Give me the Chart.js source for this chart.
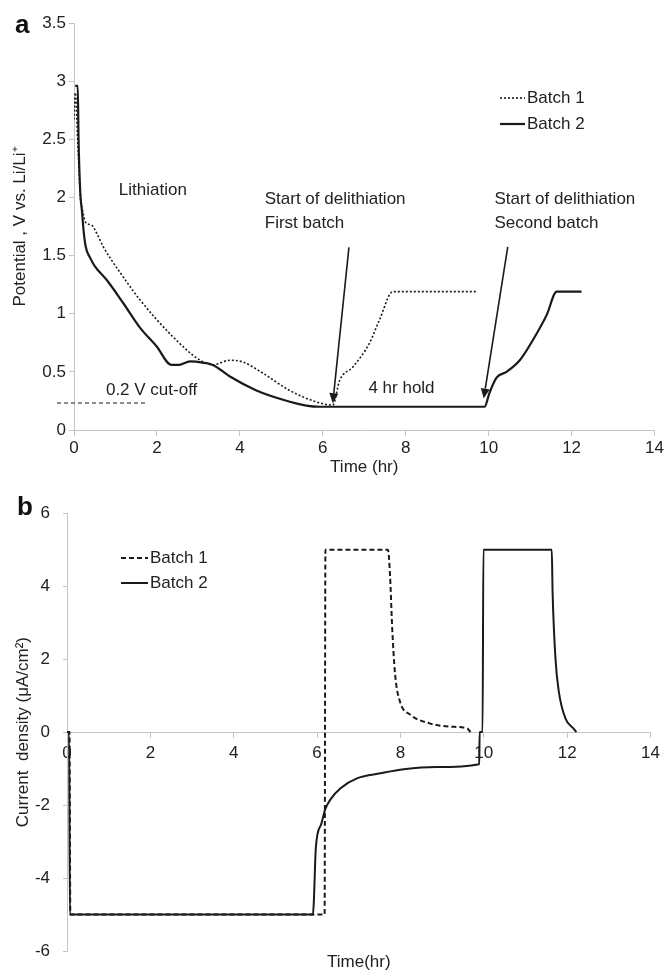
<!DOCTYPE html>
<html>
<head>
<meta charset="utf-8">
<script src="https://cdn.jsdelivr.net/npm/chart.js@4.4.1/dist/chart.umd.min.js"></script>
<style>
  body { margin: 0; background: #fff; }
  #wrap { position: relative; width: 666px; height: 975px; }
  #potentialChart { position: absolute; left: 0; top: 0; }
  #currentChart { position: absolute; left: 0; top: 490px; }
</style>
</head>
<body>
<div id="wrap">
  <canvas id="potentialChart" width="666" height="490"></canvas>
  <canvas id="currentChart" width="666" height="485"></canvas>
</div>
<script>
// Panel a: potential (V vs Li/Li+) against time (hr)
const potTimeBatch1 = [0.0, 0.03, 0.1, 0.16, 0.2, 0.23, 0.27, 0.43, 0.55, 0.7, 0.87, 1.1, 1.59, 2.39, 3.04, 3.35, 3.76, 4.07, 4.55, 5.2, 5.86, 6.24, 6.41, 6.72, 7.13, 7.37, 7.69, 9.71];
const potBatch1     = [2.67, 2.9, 2.4, 1.98, 1.9, 1.85, 1.79, 1.76, 1.69, 1.58, 1.48, 1.36, 1.12, 0.8, 0.6, 0.56, 0.6, 0.585, 0.49, 0.34, 0.24, 0.215, 0.43, 0.54, 0.75, 0.95, 1.19, 1.19];
const potTimeBatch2 = [0.03, 0.09, 0.11, 0.15, 0.19, 0.23, 0.28, 0.39, 0.5, 0.79, 1.19, 1.59, 1.99, 2.35, 2.51, 2.8, 3.1, 3.35, 3.76, 4.4, 5.04, 5.6, 5.93, 9.9, 10.02, 10.19, 10.43, 10.75, 11.06, 11.4, 11.64, 12.24];
const potBatch2     = [2.96, 2.96, 2.5, 2.05, 1.89, 1.72, 1.58, 1.48, 1.41, 1.29, 1.09, 0.88, 0.72, 0.56, 0.56, 0.59, 0.58, 0.56, 0.46, 0.34, 0.26, 0.21, 0.2, 0.2, 0.32, 0.45, 0.5, 0.6, 0.77, 0.99, 1.19, 1.19];

// Panel b: current density (uA/cm2) against time (hr)
const curTimeBatch1 = [0.0, 0.06, 0.08, 6.18, 6.2, 7.7, 7.75, 7.8, 7.87, 7.99, 8.23, 8.7, 9.18, 9.6, 9.68];
const curBatch1     = [0, 0, -5, -5, 5, 5, 4.3, 2.9, 1.6, 0.83, 0.48, 0.24, 0.15, 0.1, 0];
const curTimeBatch2 = [0.0, 0.05, 0.07, 5.9, 5.92, 5.97, 6.1, 6.2, 6.33, 6.57, 6.97, 7.52, 8.08, 8.87, 9.89, 9.9, 9.97, 9.99, 11.63, 11.65, 11.72, 11.8, 11.96, 12.15, 12.22];
const curBatch2     = [0, 0, -5, -5, -4.7, -3.17, -2.52, -2.1, -1.83, -1.53, -1.26, -1.13, -1.02, -0.96, -0.88, 0, 0, 5, 5, 3.84, 2.0, 1.1, 0.37, 0.1, 0];

const seriesNames = ['Batch 1', 'Batch 2'];

const FONT = '"Liberation Sans", Arial, sans-serif';
const INK = '#1a1a1a';
const AXIS = '#c4c4c4';
Chart.defaults.font.family = FONT;
Chart.defaults.color = '#222';

function zip(xs, ys) {
  return xs.map((x, i) => ({ x: x, y: ys[i] }));
}

// small legend drawn from the datasets themselves
const lineLegend = {
  id: 'lineLegend',
  afterDraw(chart, args, opts) {
    const ctx = chart.ctx;
    ctx.save();
    ctx.font = opts.size + 'px ' + FONT;
    ctx.textBaseline = 'middle';
    ctx.fillStyle = '#222';
    chart.data.datasets.forEach((ds, i) => {
      const y = opts.y + i * opts.spacing;
      ctx.beginPath();
      ctx.setLineDash(ds.borderDash || []);
      ctx.lineWidth = ds.borderWidth;
      ctx.strokeStyle = ds.borderColor;
      ctx.moveTo(opts.x, y);
      ctx.lineTo(opts.x + opts.lineLen, y);
      ctx.stroke();
      ctx.setLineDash([]);
      ctx.fillText(ds.label, opts.x + opts.lineLen + 2, y);
    });
    ctx.restore();
  }
};

// text labels, arrows and the cut-off line, placed in data units
const notes = {
  id: 'notes',
  afterDatasetsDraw(chart, args, opts) {
    const { ctx, scales: { x, y } } = chart;
    ctx.save();
    ctx.fillStyle = '#222';
    ctx.strokeStyle = INK;
    (opts.dashes || []).forEach(d => {
      ctx.beginPath();
      ctx.setLineDash([4, 3]);
      ctx.lineWidth = 1.2;
      ctx.moveTo(x.getPixelForValue(d.x1), y.getPixelForValue(d.y));
      ctx.lineTo(x.getPixelForValue(d.x2), y.getPixelForValue(d.y));
      ctx.stroke();
    });
    ctx.setLineDash([]);
    ctx.font = '17px ' + FONT;
    ctx.textBaseline = 'middle';
    (opts.texts || []).forEach(t => {
      ctx.fillText(t.text, x.getPixelForValue(t.x), y.getPixelForValue(t.y));
    });
    (opts.arrows || []).forEach(a => {
      const x1 = x.getPixelForValue(a.x1), y1 = y.getPixelForValue(a.y1);
      const x2 = x.getPixelForValue(a.x2), y2 = y.getPixelForValue(a.y2);
      const ang = Math.atan2(y2 - y1, x2 - x1);
      const len = 10, half = 4.5;
      const bx = x2 - len * Math.cos(ang), by = y2 - len * Math.sin(ang);
      ctx.beginPath();
      ctx.lineWidth = 1.6;
      ctx.moveTo(x1, y1);
      ctx.lineTo(bx, by);
      ctx.stroke();
      ctx.beginPath();
      ctx.moveTo(x2, y2);
      ctx.lineTo(bx + half * Math.sin(ang), by - half * Math.cos(ang));
      ctx.lineTo(bx - half * Math.sin(ang), by + half * Math.cos(ang));
      ctx.closePath();
      ctx.fillStyle = INK;
      ctx.fill();
    });
    if (opts.panel) {
      ctx.font = 'bold 26px ' + FONT;
      ctx.textBaseline = 'alphabetic';
      ctx.fillStyle = '#111';
      ctx.fillText(opts.panel.text, opts.panel.px, opts.panel.py);
    }
    ctx.restore();
  }
};

const tickFont = { size: 17 };

new Chart(document.getElementById('potentialChart'), {
  type: 'line',
  data: {
    datasets: [
      { label: seriesNames[0], data: zip(potTimeBatch1, potBatch1), borderColor: INK, borderWidth: 1.6, borderDash: [2, 2] },
      { label: seriesNames[1], data: zip(potTimeBatch2, potBatch2), borderColor: INK, borderWidth: 2.2 }
    ]
  },
  options: {
    responsive: false,
    animation: false,
    layout: { padding: { top: 23, right: 11, bottom: 0, left: 0 } },
    elements: { point: { radius: 0 }, line: { cubicInterpolationMode: 'monotone', fill: false } },
    scales: {
      x: {
        type: 'linear', min: 0, max: 14,
        afterFit: s => { s.height = 60; },
        ticks: { stepSize: 2, font: tickFont, padding: 2 },
        grid: { drawOnChartArea: false, tickLength: 6, color: AXIS },
        border: { color: AXIS },
        title: { display: true, text: 'Time (hr)', font: tickFont, padding: { top: 0, bottom: 12 } }
      },
      y: {
        min: 0, max: 3.5,
        afterFit: s => { s.width = 74; },
        ticks: { stepSize: 0.5, font: tickFont, padding: 3, callback: v => String(v) },
        grid: { drawOnChartArea: false, tickLength: 5, color: AXIS },
        border: { color: AXIS },
        title: { display: true, text: 'Potential , V vs. Li/Li\u207A', font: tickFont, padding: { top: 10, bottom: 0 } }
      }
    },
    plugins: {
      legend: { display: false },
      tooltip: { enabled: false },
      lineLegend: { x: 500, y: 98, spacing: 26, lineLen: 25, size: 17 },
      notes: {
        panel: { text: 'a', px: 15, py: 33 },
        texts: [
          { text: 'Lithiation', x: 1.08, y: 2.06 },
          { text: 'Start of delithiation', x: 4.6, y: 1.98 },
          { text: 'First batch', x: 4.6, y: 1.78 },
          { text: 'Start of delithiation', x: 10.14, y: 1.98 },
          { text: 'Second batch', x: 10.14, y: 1.78 },
          { text: '0.2 V cut-off', x: 0.77, y: 0.345 },
          { text: '4 hr hold', x: 7.1, y: 0.36 }
        ],
        arrows: [
          { x1: 6.63, y1: 1.57, x2: 6.24, y2: 0.23 },
          { x1: 10.46, y1: 1.575, x2: 9.88, y2: 0.27 }
        ],
        dashes: [ { x1: -0.41, x2: 1.78, y: 0.232 } ]
      }
    }
  },
  plugins: [lineLegend, notes]
});

new Chart(document.getElementById('currentChart'), {
  type: 'line',
  data: {
    datasets: [
      { label: seriesNames[0], data: zip(curTimeBatch1, curBatch1), borderColor: INK, borderWidth: 2, borderDash: [5, 3] },
      { label: seriesNames[1], data: zip(curTimeBatch2, curBatch2), borderColor: INK, borderWidth: 2 }
    ]
  },
  options: {
    responsive: false,
    animation: false,
    layout: { padding: { top: 21, right: 10, bottom: 0, left: 0 } },
    elements: { point: { radius: 0 }, line: { cubicInterpolationMode: 'monotone', fill: false } },
    scales: {
      x: {
        type: 'linear', position: { y: 0 }, min: 0, max: 14,
        ticks: { stepSize: 2, font: tickFont, padding: 6 },
        grid: { drawOnChartArea: false, tickLength: 5, color: AXIS },
        border: { color: AXIS }
      },
      x2: {
        type: 'linear', position: 'bottom', min: 0, max: 14,
        afterFit: s => { s.height = 24; },
        ticks: { display: false },
        grid: { display: false },
        border: { display: false },
        title: { display: true, text: 'Time(hr)', font: tickFont, padding: { top: 0, bottom: 2 } }
      },
      y: {
        min: -6, max: 6,
        afterFit: s => { s.width = 67; },
        ticks: { stepSize: 2, font: tickFont, padding: 13 },
        grid: { drawOnChartArea: false, tickLength: 4, color: AXIS },
        border: { color: AXIS },
        title: { display: true, text: 'Current  density (\u03BCA/cm\u00B2)', font: tickFont, padding: { top: 13, bottom: 0 } }
      }
    },
    plugins: {
      legend: { display: false },
      tooltip: { enabled: false },
      lineLegend: { x: 121, y: 68, spacing: 25, lineLen: 27, size: 17 },
      notes: { panel: { text: 'b', px: 17, py: 25 } }
    }
  },
  plugins: [lineLegend, notes]
});
</script>
</body>
</html>
